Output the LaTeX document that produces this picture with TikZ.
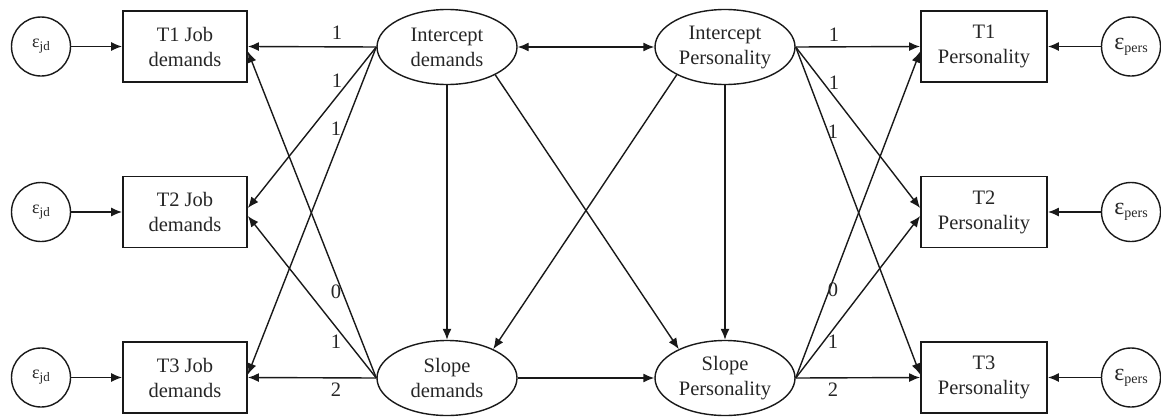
\documentclass[tikz,border=0pt]{standalone}
\usepackage{fontspec}
\setmainfont{Liberation Serif}
\usetikzlibrary{arrows.meta,shapes.geometric}
\newcommand\epsjd{{\fontsize{18}{18}\selectfont ε}\raisebox{-3pt}{\fontsize{13}{13}\selectfont jd}}
\newcommand\epspers{{\fontsize{24}{24}\selectfont ε}\raisebox{-3pt}{\fontsize{14}{14}\selectfont pers}}
\begin{document}
\begin{tikzpicture}[x=1pt,y=-1pt,
  every node/.style={font=\fontsize{20.5}{25}\selectfont, text=black!85},
  obs/.style={draw=black!90, line width=1.8pt, minimum width=124pt, minimum height=71pt, align=center, inner sep=0pt},
  lat/.style={draw=black!90, ellipse, line width=1.4pt, minimum width=140pt, minimum height=75pt, align=center, inner sep=0pt},
  err/.style={draw=black!90, circle, line width=1.4pt, minimum size=59pt, inner sep=0pt},
  arr/.style={draw=black!90, line width=1.4pt, -{Latex[length=11pt,width=9pt]}},
  darr/.style={draw=black!90, line width=1.4pt, {Latex[length=11pt,width=9pt]}-{Latex[length=11pt,width=9pt]}},
  lbl/.style={inner sep=0pt}]
\useasboundingbox (0,0) rectangle (1161,418);
% observed
\node[obs] (jd1) at (185,46.5) {T1 Job\\demands};
\node[obs] (jd2) at (185,212) {T2 Job\\demands};
\node[obs] (jd3) at (185,377.5) {T3 Job\\demands};
\node[obs, minimum width=126pt] (p1) at (984,46.5) {T1\\Personality};
\node[obs, minimum width=126pt] (p2) at (984,212) {T2\\Personality};
\node[obs, minimum width=126pt] (p3) at (984,377.5) {T3\\Personality};
% latent
\node[lat] (id) at (447,47) {Intercept\\demands};
\node[lat] (ip) at (725,47) {Intercept\\Personality};
\node[lat] (sd) at (447,378) {Slope\\demands};
\node[lat] (sp) at (725,378) {Slope\\Personality};
% errors
\node[err] (e1) at (41,46.5) {\epsjd};
\node[err] (e2) at (41,212) {\epsjd};
\node[err] (e3) at (41,377.5) {\epsjd};
\node[err] (f1) at (1131,46.5) {\epspers};
\node[err] (f2) at (1131,212) {\epspers};
\node[err] (f3) at (1131,377.5) {\epspers};
% error arrows
\draw[arr] (e1) -- (jd1);
\draw[arr] (e2) -- (jd2);
\draw[arr] (e3) -- (jd3);
\draw[arr] (f1) -- (p1);
\draw[arr] (f2) -- (p2);
\draw[arr] (f3) -- (p3);
% loadings left
\draw[arr] (id.west) -- (jd1.east);
\draw[arr] (id.west) -- ([yshift=4pt]jd2.east);
\draw[arr] (id.west) -- ([yshift=3pt]jd3.east);
\draw[arr] (sd.west) -- ([yshift=-5pt]jd1.east);
\draw[arr] (sd.west) -- ([yshift=-4pt]jd2.east);
\draw[arr] (sd.west) -- (jd3.east);
% loadings right
\draw[arr] (ip.east) -- (p1.west);
\draw[arr] (ip.east) -- ([yshift=4pt]p2.west);
\draw[arr] (ip.east) -- ([yshift=3pt]p3.west);
\draw[arr] (sp.east) -- ([yshift=-5pt]p1.west);
\draw[arr] (sp.east) -- ([yshift=-4pt]p2.west);
\draw[arr] (sp.east) -- (p3.west);
% structural
\draw[darr] (id) -- (ip);
\draw[arr] (id) -- (sd);
\draw[arr] (ip) -- (sp);
\draw[arr] (sd) -- (sp);
\draw[arr] (id.-30) -- (sp.148);
\draw[arr] (ip.-150) -- (sd.32);
% labels
\node[lbl] (la1) at (337,33) {1};
\node[lbl] (la2) at (337,81) {1};
\node[lbl] (la3) at (336,129) {1};
\node[lbl] (lb1) at (336,292) {0};
\node[lbl] (lb2) at (336,342) {1};
\node[lbl] (lb3) at (336,390) {2};
\node[lbl] (ra1) at (834,35) {1};
\node[lbl] (ra2) at (834,83) {1};
\node[lbl] (ra3) at (833,132) {1};
\node[lbl] (rb1) at (833,290) {0};
\node[lbl] (rb2) at (833,342) {1};
\node[lbl] (rb3) at (833,390) {2};
\end{tikzpicture}
\end{document}
